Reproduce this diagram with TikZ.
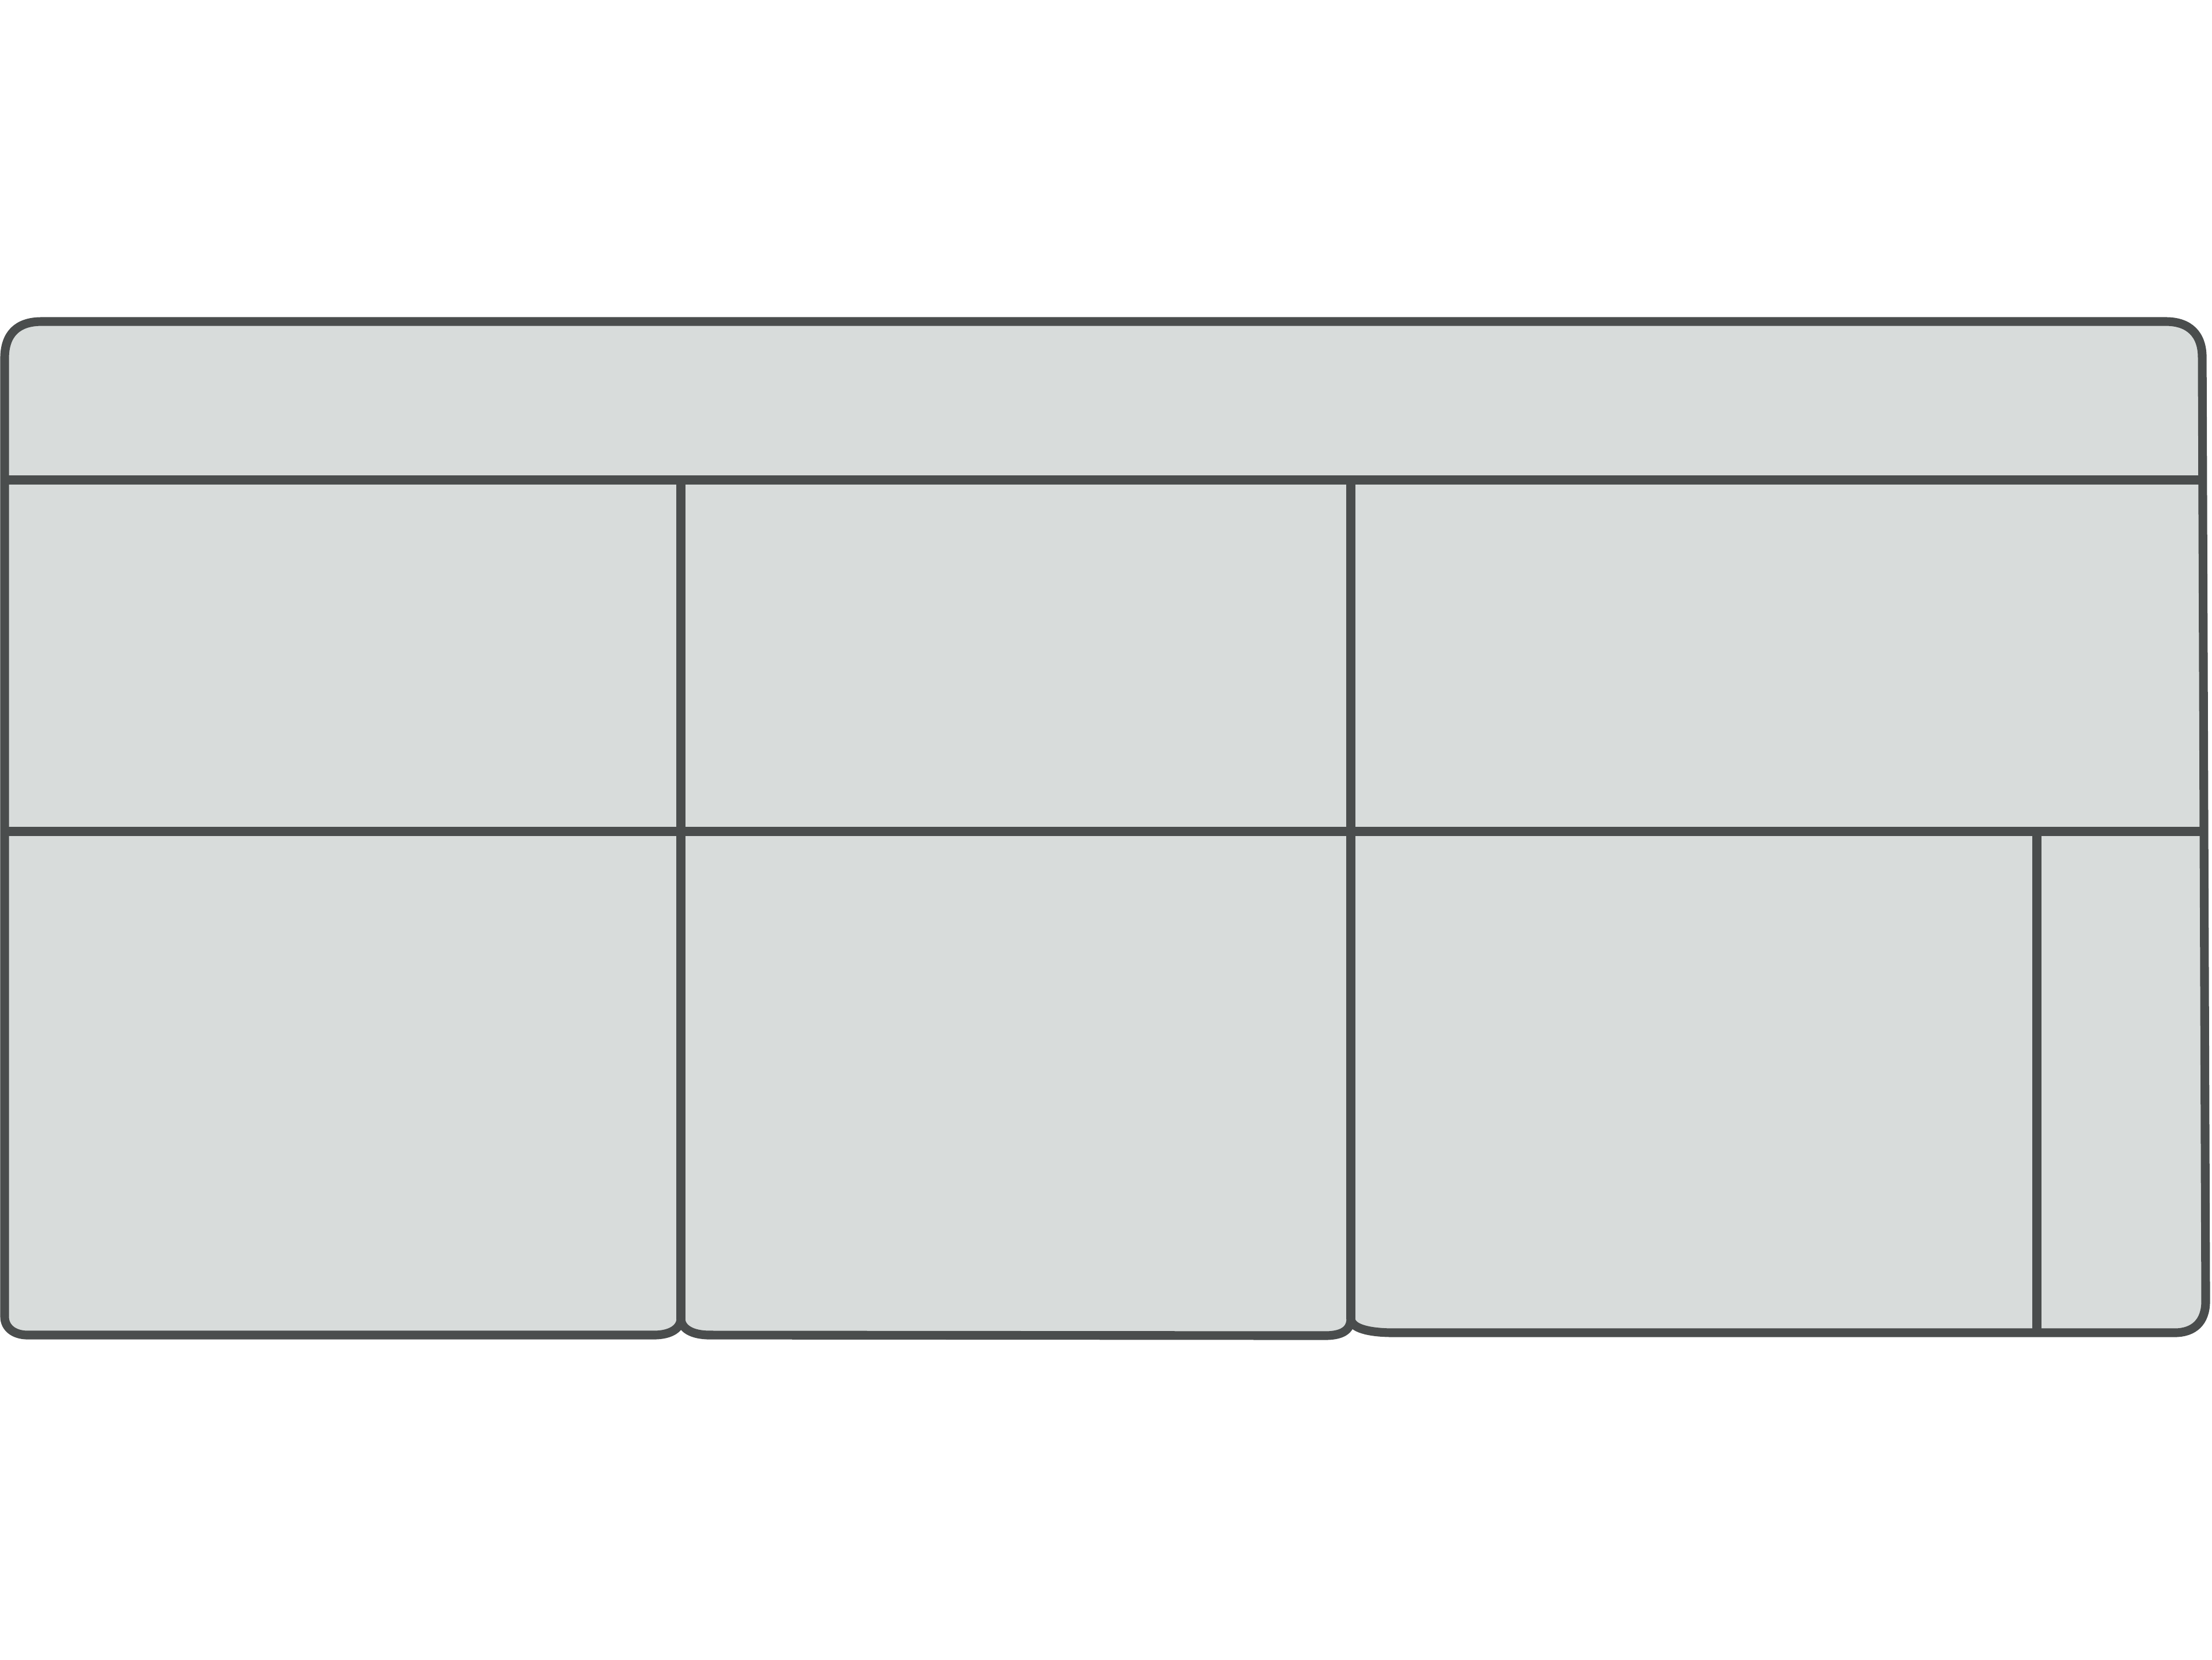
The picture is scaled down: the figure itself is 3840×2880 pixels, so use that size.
\documentclass[tikz,border=0pt]{standalone}
\definecolor{sofafill}{HTML}{D8DCDB}
\definecolor{sofaline}{HTML}{4A4D4D}
\tikzset{
  outline/.style={draw=sofaline, line width=4.3pt, line join=round, line cap=round},
  seam/.style={draw=sofaline, line width=4.3pt, line cap=butt},
}
\begin{document}
\begin{tikzpicture}[x=0.01cm,y=-0.01cm]
\useasboundingbox (0,0) rectangle (3840,2880);
% body outline
\path[fill=sofafill, outline]
  (8,2285) -- (8,622)
  .. controls (8,580) and (30,558) .. (72,558)
  -- (3760,558)
  .. controls (3800,558) and (3823,580) .. (3823,620)
  -- (3829,2258)
  .. controls (3829,2295) and (3808,2313) .. (3775,2313)
  -- (2420,2313)
  .. controls (2375,2313) and (2345,2305) .. (2345,2288)
  .. controls (2345,2305) and (2335,2318) .. (2300,2318)
  -- (1232,2317)
  .. controls (1200,2317) and (1182,2305) .. (1182,2288)
  .. controls (1182,2305) and (1165,2317) .. (1135,2317)
  -- (48,2317)
  .. controls (25,2317) and (8,2305) .. (8,2285);
% back cushion seam
\draw[seam] (8,833) -- (3824,833);
% middle seam
\draw[seam] (8,1443) -- (3827,1443);
% seat dividers
\draw[seam] (1182,833) -- (1182,2290);
\draw[seam] (2345,833) -- (2345,2290);
\draw[seam] (3536,1443) -- (3536,2313);
\end{tikzpicture}
\end{document}
